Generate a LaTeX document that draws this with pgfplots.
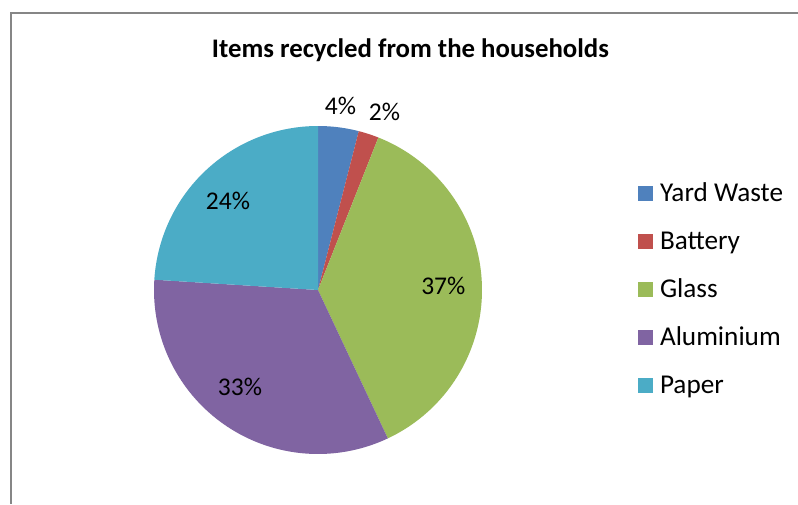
\documentclass[border=0pt]{standalone}
\usepackage{pgfplots}
\pgfplotsset{compat=1.18}
\usepackage{pgfplotstable}
\usepackage{fontspec}
\setmainfont{Carlito}
\definecolor{cyard}{HTML}{4F81BD}
\definecolor{cbatt}{HTML}{C0504D}
\definecolor{cglass}{HTML}{9BBB59}
\definecolor{calu}{HTML}{8064A2}
\definecolor{cpaper}{HTML}{4BACC6}
\definecolor{framegray}{HTML}{868686}
% percentages of each slice (clockwise from 12 o'clock)
\def\vYard{4}
\def\vBatt{2}
\def\vGlass{37}
\def\vAlu{33}
\def\vPaper{24}
\pgfmathsetmacro{\aA}{90}
\pgfmathsetmacro{\aB}{\aA-3.6*\vYard}
\pgfmathsetmacro{\aC}{\aB-3.6*\vBatt}
\pgfmathsetmacro{\aD}{\aC-3.6*\vGlass}
\pgfmathsetmacro{\aE}{\aD-3.6*\vAlu}
\pgfmathsetmacro{\aF}{\aE-3.6*\vPaper}
\begin{document}
\begin{tikzpicture}[x=1pt,y=1pt]
\useasboundingbox (0,0) rectangle (798,504);
\fill[white] (0,0) rectangle (798,504);
\fill[framegray] (9.5,0) rectangle (11.5,492);
\fill[framegray] (9.5,490) rectangle (798,492);
\node[anchor=base, font=\fontsize{26.8}{32}\selectfont\bfseries] at (410.5,446) {Items recycled from the households};
\begin{axis}[
  at={(318pt,214pt)}, anchor=center,
  scale only axis, width=328pt, height=328pt,
  xmin=-1, xmax=1, ymin=-1, ymax=1,
  hide axis, clip=false,
  legend image code/.code={\fill[#1,draw=none] (0pt,1pt) rectangle (15pt,16pt);},
  legend style={draw=none, fill=none, inner sep=0pt, outer sep=0pt,
    at={(1.4756,0.842)}, anchor=north west,
    row sep=0pt, column sep=7pt,
    nodes={inner sep=0pt, text height=24pt, text depth=24pt,
      font=\fontsize{27.2}{32}\selectfont}},
  legend cell align=left,
]
\addplot[fill=cyard, draw=none, domain=\aB:\aA, samples=20] ({cos(x)},{sin(x)}) -- (axis cs:0,0) -- cycle;
\addlegendentry{Yard Waste}
\addplot[fill=cbatt, draw=none, domain=\aC:\aB, samples=10] ({cos(x)},{sin(x)}) -- (axis cs:0,0) -- cycle;
\addlegendentry{Battery}
\addplot[fill=cglass, draw=none, domain=\aD:\aC, samples=120] ({cos(x)},{sin(x)}) -- (axis cs:0,0) -- cycle;
\addlegendentry{Glass}
\addplot[fill=calu, draw=none, domain=\aE:\aD, samples=110] ({cos(x)},{sin(x)}) -- (axis cs:0,0) -- cycle;
\addlegendentry{Aluminium}
\addplot[fill=cpaper, draw=none, domain=\aF:\aE, samples=80] ({cos(x)},{sin(x)}) -- (axis cs:0,0) -- cycle;
\addlegendentry{Paper}
\begin{scope}[every node/.style={font=\fontsize{25.5}{30}\selectfont, inner sep=0pt}]
\node at (axis cs:0.137,1.122) {\vYard\%};
\node at (axis cs:0.405,1.088) {\vBatt\%};
\node at (axis cs:0.764,0.024) {\vGlass\%};
\node at (axis cs:-0.476,-0.591) {\vAlu\%};
\node at (axis cs:-0.549,0.543) {\vPaper\%};
\end{scope}
\end{axis}
\end{tikzpicture}
\end{document}
